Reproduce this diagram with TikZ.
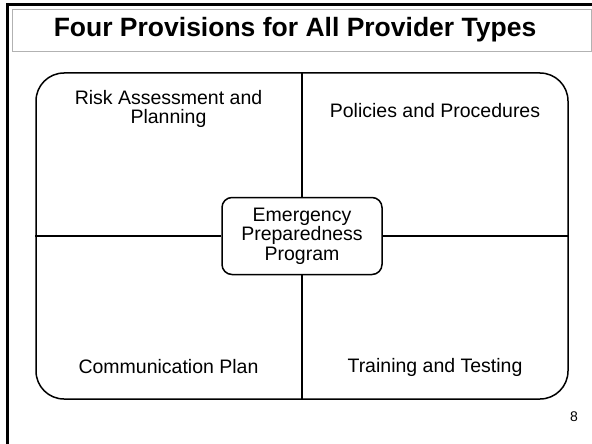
\documentclass[tikz,border=0pt]{standalone}
\usepackage{fontspec}
\setmainfont{Liberation Sans}
\usetikzlibrary{positioning}

\begin{document}
\begin{tikzpicture}[%
    x=1pt,
    y=-1pt,
    line width=1.5pt,
    heading/.style={%
      rectangle,
      draw=gray!60,
      line width=0.8pt,
      minimum width=579pt,
      minimum height=42pt,
      inner sep=0pt
    },
    board/.style={%
      rectangle,
      rounded corners=28pt,
      minimum width=532pt,
      minimum height=326pt,
      draw
    },
    program/.style={%
      rectangle,
      rounded corners=10pt,
      minimum width=160pt,
      minimum height=77pt,
      inner sep=0pt,
      align=center,
      fill=white,
      draw,
      font=\fontsize{19.5}{19.5}\selectfont
    },
    quadrant/.style={%
      align=center,
      inner sep=0pt,
      font=\fontsize{19.5}{19.5}\selectfont
    }
  ]
    \useasboundingbox (0,0) rectangle (592,444);
    \draw[line width=3pt] (7.5,450) -- (7.5,4.5) -- (600,4.5);

    \node[heading]  (title)    at (301.5,30)   {};
    \node[font=\fontsize{26.5}{30}\selectfont\bfseries] (words) at (295,30) {Four Provisions for All Provider Types};
    \node[board]    (board)    at (302,236)    {};
    \node[program]  (ep)       at (board.center) {Emergency\\Preparedness\\Program};
    \node[quadrant] (risk)     at (168.5,109)  {Risk Assessment and\\Planning};
    \node[quadrant] (policies) at (435,111)    {Policies and Procedures};
    \node[quadrant] (comm)     at (168.5,367)  {Communication Plan};
    \node[quadrant] (training) at (435,367)    {Training and Testing};
    \node[font=\fontsize{14}{16}\selectfont] (page) at (574,417) {8};

    \draw (board.north) -- (ep.north)
          (board.south) -- (ep.south)
          (board.west)  -- (ep.west)
          (board.east)  -- (ep.east);
  \end{tikzpicture}
\end{document}
